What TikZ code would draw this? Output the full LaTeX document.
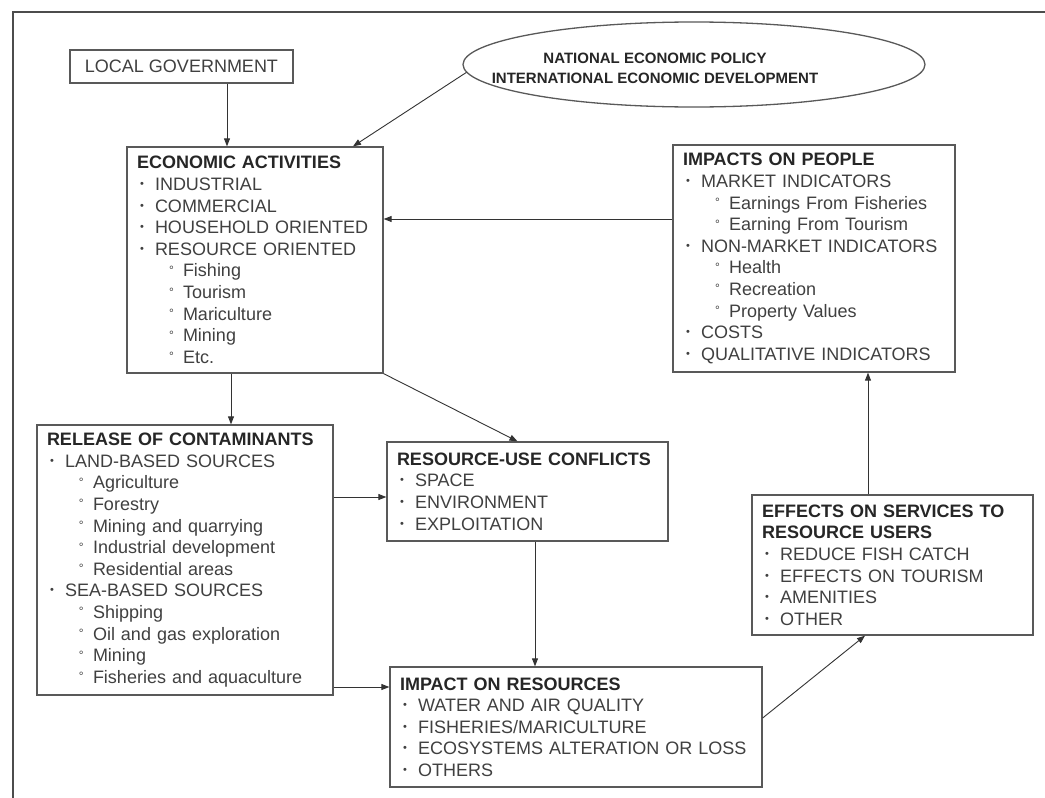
\documentclass[tikz,border=0pt]{standalone}
\usepackage{fontspec}
\setmainfont{Liberation Sans}
\usetikzlibrary{arrows.meta,shapes.geometric}
\newcommand\hd[1]{{\bfseries\color{black!85}#1}}
\newcommand\bui[1]{\makebox[18pt][l]{\hspace{3pt}\raisebox{3pt}{\fontsize{11}{11}\selectfont •}}#1}
\newcommand\subi[1]{\hspace*{32pt}\makebox[14pt][l]{\raisebox{2.5pt}{\fontsize{12}{12}\selectfont °}}#1}
\begin{document}
\begin{tikzpicture}[x=1pt,y=-1pt,
  every node/.style={font=\fontsize{18}{21.6}\selectfont, text=black!75},
  box/.style={draw=black!65, line width=1.3pt, align=left, inner xsep=10pt, inner ysep=0pt},
  arr/.style={draw=black!80, line width=0.9pt, -{Triangle[length=8pt,width=6pt]}}]
\useasboundingbox (0,0) rectangle (1045,798);
\fill[white] (0,0) rectangle (1045,798);
\draw[black!70, line width=2.5pt] (13,800) -- (13,12) -- (1047,12);

\node[box, minimum width=223pt, minimum height=33pt, align=center] (lg) at (181.5,66.5) {LOCAL GOVERNMENT};
\node[draw=black!65, line width=1.3pt, ellipse, minimum width=462pt, minimum height=85pt, inner sep=0pt] (pol) at (694,64.5) {};
\node[font=\fontsize{15}{20}\selectfont\bfseries, text=black!85, align=center] (poltxt) at (655,68) {NATIONAL ECONOMIC POLICY\\INTERNATIONAL ECONOMIC DEVELOPMENT};

\node[box, minimum width=256pt, minimum height=226pt, text width=236pt] (econ) at (255,260) {\hd{ECONOMIC ACTIVITIES}\\
\bui{INDUSTRIAL}\\
\bui{COMMERCIAL}\\
\bui{HOUSEHOLD ORIENTED}\\
\bui{RESOURCE ORIENTED}\\
\subi{Fishing}\\
\subi{Tourism}\\
\subi{Mariculture}\\
\subi{Mining}\\
\subi{Etc.}};

\node[box, minimum width=282pt, minimum height=227pt, text width=262pt] (imp) at (814,258.5) {\hd{IMPACTS ON PEOPLE}\\
\bui{MARKET INDICATORS}\\
\subi{Earnings From Fisheries}\\
\subi{Earning From Tourism}\\
\bui{NON-MARKET INDICATORS}\\
\subi{Health}\\
\subi{Recreation}\\
\subi{Property Values}\\
\bui{COSTS}\\
\bui{QUALITATIVE INDICATORS}};

\node[box, minimum width=296pt, minimum height=270pt, text width=276pt] (rel) at (185,560) {\hd{RELEASE OF CONTAMINANTS}\\
\bui{LAND-BASED SOURCES}\\
\subi{Agriculture}\\
\subi{Forestry}\\
\subi{Mining and quarrying}\\
\subi{Industrial development}\\
\subi{Residential areas}\\
\bui{SEA-BASED SOURCES}\\
\subi{Shipping}\\
\subi{Oil and gas exploration}\\
\subi{Mining}\\
\subi{Fisheries and aquaculture}};

\node[box, minimum width=281pt, minimum height=99pt, text width=261pt] (confl) at (527.5,491.5) {\hd{RESOURCE-USE CONFLICTS}\\
\bui{SPACE}\\
\bui{ENVIRONMENT}\\
\bui{EXPLOITATION}};

\node[box, minimum width=372pt, minimum height=120pt, text width=352pt] (impres) at (576,727) {\hd{IMPACT ON RESOURCES}\\
\bui{WATER AND AIR QUALITY}\\
\bui{FISHERIES/MARICULTURE}\\
\bui{ECOSYSTEMS ALTERATION OR LOSS}\\
\bui{OTHERS}};

\node[box, minimum width=281pt, minimum height=140pt, text width=261pt] (eff) at (892.5,565) {\hd{EFFECTS ON SERVICES TO}\\
\hd{RESOURCE USERS}\\
\bui{REDUCE FISH CATCH}\\
\bui{EFFECTS ON TOURISM}\\
\bui{AMENITIES}\\
\bui{OTHER}};

\draw[arr] ([xshift=45.5pt]lg.south) -- ([xshift=45.5pt]lg.south |- econ.north);
\draw[arr] (pol.182) -- ([xshift=98pt]econ.north);
\draw[arr] ([yshift=39.5pt]imp.west) -- ([yshift=39.5pt]imp.west -| econ.east);
\draw[arr] ([xshift=-24pt]econ.south) -- ([xshift=-24pt]econ.south |- rel.north);
\draw[arr] (econ.south east) -- ([xshift=-10pt]confl.north);
\draw[arr] ([yshift=63pt]rel.east) -- ([yshift=63pt]rel.east -| confl.west);
\draw[arr] ([yshift=-127pt]rel.east) -- ([yshift=-127pt]rel.east -| impres.west);
\draw[arr] ([xshift=7.5pt]confl.south) -- ([xshift=7.5pt]confl.south |- impres.north);
\draw[arr] ([yshift=9pt]impres.east) -- ([xshift=-27.5pt]eff.south);
\draw[arr] ([xshift=-24.5pt]eff.north) -- ([xshift=-24.5pt]eff.north |- imp.south);
\end{tikzpicture}
\end{document}
